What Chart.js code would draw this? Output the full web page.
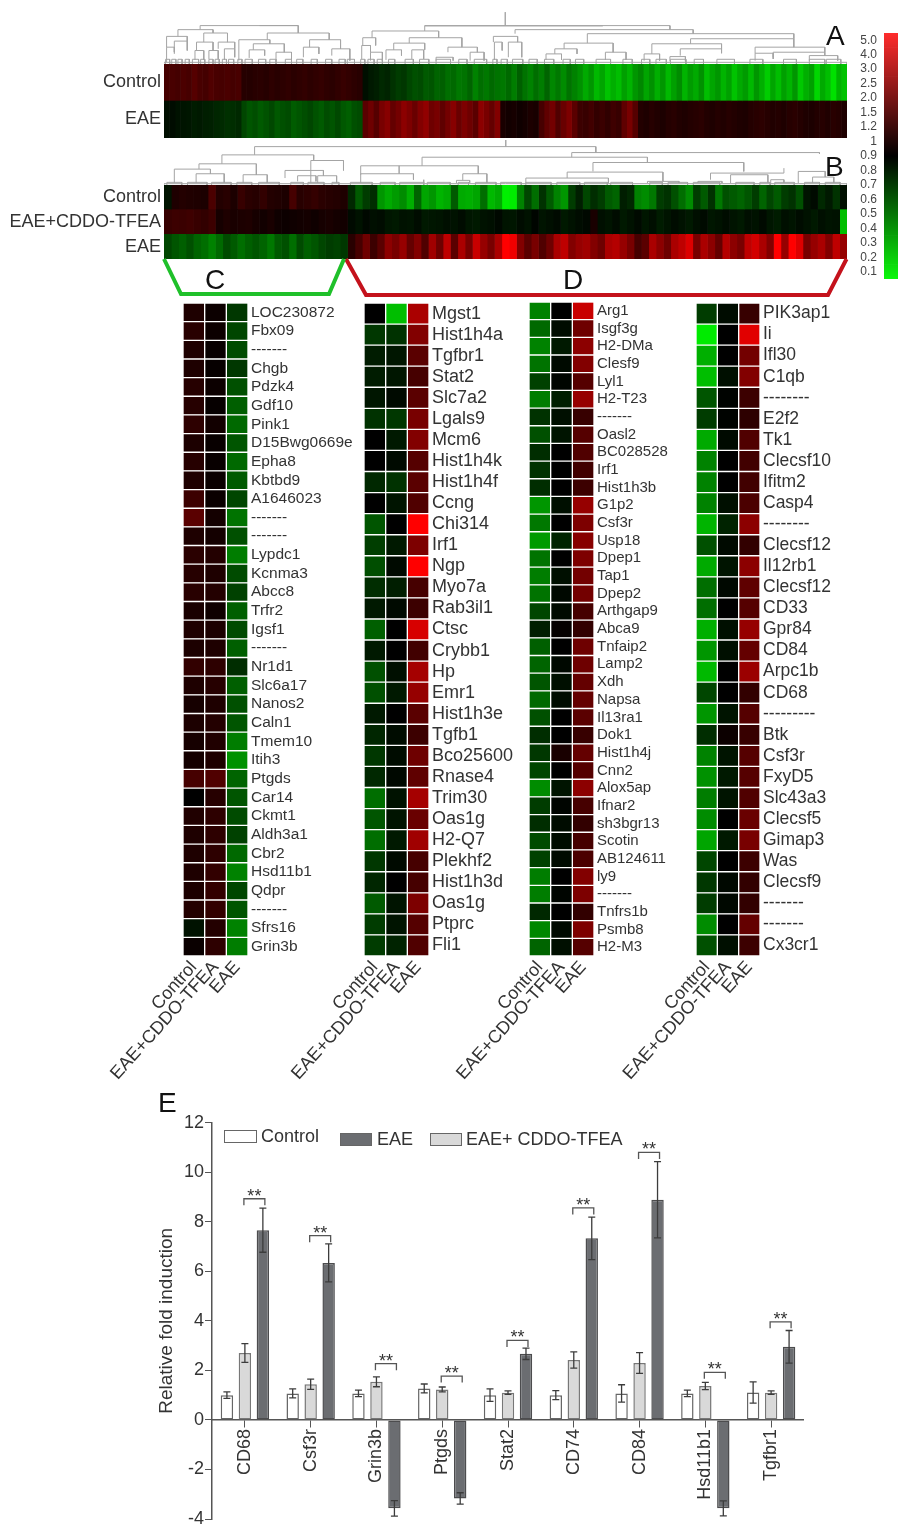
<!DOCTYPE html>
<html>
<head>
<meta charset="utf-8">
<title>Heat maps and fold induction</title>
<script src="https://cdn.jsdelivr.net/npm/chart.js@4"></script>
<style>
  html, body { margin: 0; padding: 0; background: #fff; }
  #page { position: relative; width: 898px; height: 1524px; overflow: hidden; font-family: "Liberation Sans", Arial, sans-serif; color: #222; }
  #page canvas { position: absolute; }
  .letter { position: absolute; font-size: 28px; line-height: 28px; color: #111; }
  .legend-box { position: absolute; box-sizing: border-box; border: 1.5px solid #666; }
  .legend-text { position: absolute; font-size: 18px; line-height: 20px; color: #333; white-space: nowrap; }
</style>
</head>
<body>
<div id="page"></div>
<script>
// ---------- Heat map A (signed level: red above, green below) ----------
const stripARows = ["Control", "EAE"];
const stripAControl = [
  70,72,68,75,70,85,72,68,80,72,70,74,68,72,
  38,36,40,42,38,45,40,44,48,42,46,50,44,48,52,46,42,48,55,50,44,40,
  -15,-25,-30,-40,-35,-50,-60,-55,-70,-80,-75,-90,-85,-100,-95,-110,-105,-120,-115,-100,-130,-110,-120,-105,-115,
  -120,-105,-125,-95,-115,-130,-110,-125,-100,-135,-120,-140,-115,-130,-145,
  -170,-150,-185,-165,-195,-175,-190,-160,-180,-150,
  -135,-165,-145,-175,-150,-185,-160,-140,-180,-155,-170,-145,-190,-165,-150,-180,-160,-195,-170,
  -155,-185,-150,-175,-205,-165,-190,-160,-180,-150,-200,-175,-160,-215,-170,-190,-225,-180,-195
];
const stripAEae = [
  -15,-12,-18,-20,-22,-28,-25,-30,-32,-38,-42,-48,-45,-40,
  -70,-85,-78,-90,-82,-72,-88,-80,-75,-92,-85,-78,-70,-82,-90,-76,-84,-72,-88,-95,-80,-75,
  90,110,85,120,135,100,115,140,125,105,130,145,110,120,95,115,135,105,125,110,90,140,120,100,130,
  25,18,22,15,20,28,24,
  70,95,115,80,105,125,90,60,55,65,50,58,48,62,55,95,120,85,
  35,30,38,32,28,36,40,33,30,35,38,42,34,30,36,32,38,34,30,
  28,36,40,44,38,32,35,30,38,42,36,30,28,34,38,32,40,36,30
];

// ---------- Heat map B ----------
const stripBRows = ["Control", "EAE+CDDO-TFEA", "EAE"];
const stripBControl = [
  -20,30,35,32,30,28,75,35,40,28,55,42,38,50,35,32,28,70,40,45,52,42,38,35,30,
  -40,-90,-60,-45,-150,-170,-155,-140,-175,-100,
  -165,-150,-180,-170,-90,-170,-175,-165,-110,-185,
  -170,-240,-235,-130,-70,-110,-50,-90,-130,-150,
  -60,-30,-70,-45,-60,-90,-100,-30,-40,-130,
  -140,-120,-60,-50,-80,-110,-140,-60,-90,-50,
  -120,-80,-90,-100,-85,-60,-100,-70,-90,-60,
  -50,-80,-20,-10,-40,-25,-50,-15
];
const stripBTfea = [
  55,60,58,62,55,50,60,22,30,25,28,30,22,18,25,15,12,15,18,20,15,22,25,20,18,
  -10,-18,-8,-15,-12,-22,-25,-18,-20,-12,
  -25,-22,-20,-15,-18,-12,-22,-25,-18,-15,
  -8,-20,-22,-12,-18,-5,-20,-15,-10,-25,
  -18,-12,-8,25,-15,-20,-12,-25,-18,-10,
  -22,-15,-28,-20,-12,-18,-25,-15,-10,-22,
  -18,-12,-20,-25,-15,-18,-10,-22,-28,-15,
  -20,-12,-18,-25,-15,-20,-18,-190
];
const stripBEae = [
  -70,-85,-95,-80,-100,-110,-130,-105,-75,-90,-110,-95,-85,-100,-120,-90,-80,-110,-75,-95,-85,-70,-60,-65,-55,
  40,70,110,60,90,140,120,150,100,130,
  80,160,110,190,90,170,120,200,150,120,
  170,255,240,130,90,120,80,110,170,190,
  130,150,160,130,110,170,180,150,120,70,
  90,170,140,110,170,190,220,120,170,140,
  100,180,140,120,190,210,170,130,255,150,
  255,220,120,150,170,130,190,150
];

// ---------- Dendrograms: [x left, x right, join height, left foot, right foot] ----------
const treeA = [
  [806,806,36,76,76],[215,405,76,88,98],[650,1125,76,92,88],[330,405,76,76,76],[650,995,77,77,77],
  [172,240,88,108,98],[150,190,108,140,122],[222,268,98,125,125],[150,165,140,185,155],[165,190,122,160,150],
  [208,240,125,150,150],[250,282,125,145,145],[205,222,150,178,178],[232,250,150,175,175],[262,282,145,178,170],
  [345,465,98,118,118],[290,350,118,180,130],[318,378,130,148,155],[310,340,148,172,165],[362,392,155,182,182],
  [427,487,118,140,145],[415,445,140,170,160],[470,505,145,165,180],
  [548,677,92,112,112],[530,555,112,135,135],[620,722,112,128,140],[590,650,128,148,148],[695,752,140,155,155],
  [528,545,135,175,155],[545,568,155,180,180],[575,605,148,178,165],[625,648,148,175,175],[672,705,170,180,180],[738,765,155,180,180],
  [825,1170,88,100,100],[783,830,108,125,125],[785,800,125,178,150],[812,838,125,170,170],
  [965,1365,100,128,115],[920,1015,128,145,155],[902,945,145,160,160],[1000,1040,155,178,178],[885,915,160,178,178],
  [1165,1365,115,130,140],[1090,1225,130,160,145],[1145,1225,145,165,158],[1075,1105,160,180,180],[1125,1155,168,182,182],
  [1290,1425,140,158,155],[1325,1425,155,170,165],[1290,1325,158,180,175],[1395,1450,165,180,180],
  [145,1468,185,190,190]
];
const treeALeaves = [
  [148,156],[160,168],[172,180],[186,194],[200,212],[216,224],[232,240],[244,252],[258,266],[270,280],
  [288,296],[302,316],[328,342],[350,362],[380,392],[402,414],[430,442],[458,470],[484,496],[500,514],
  [526,534],[540,552],[558,568],[580,592],[612,628],[640,658],[672,700],[716,732],[746,770],[782,790],
  [798,810],[820,840],[852,868],[882,900],[918,932],[942,958],[982,1010],[1034,1052],[1070,1086],[1098,1118],
  [1126,1156],[1172,1190],[1216,1250],[1280,1305],[1345,1370],[1395,1425],[1428,1456]
];
const treeB = [
  [883,883,0,20,20],[445,1040,20,45,38],[388,548,45,72,60],[348,448,72,88,105],[305,368,88,130,102],
  [343,392,102,130,130],[425,467,105,130,130],[543,600,62,130,92],[498,565,92,115,108],[520,552,108,125,125],[555,588,108,130,130],
  [998,1430,38,52,42],[737,1130,52,78,68],[630,835,78,105,102],[697,697,78,102,102],[630,722,102,130,120],[740,740,120,130,130],
  [808,850,102,122,130],[797,820,122,130,130],[1035,1298,68,95,95],[990,1157,97,115,125],[918,1062,115,130,130],
  [1130,1185,125,130,130],[1240,1368,100,120,85],[1275,1340,105,130,130],[1218,1260,125,130,130],[1345,1368,120,130,130],
  [1393,1440,95,130,112],[1418,1455,112,130,130],[287,1478,132,136,136]
];
const treeBLeaves = [
  [292,318],[328,362],[370,404],[414,440],[452,488],[508,530],[538,566],[580,592],[612,650],[664,690],
  [698,740],[746,786],[800,818],[830,866],[874,910],[918,962],[972,1012],[1020,1060],[1066,1104],[1134,1156],
  [1166,1200],[1210,1256],[1284,1316],[1326,1344],[1352,1386],[1404,1430],[1440,1466]
];

// ---------- Gene panels ----------
const heatColumns = ["Control", "EAE+CDDO-TFEA", "EAE"];

const genesC = ["LOC230872","Fbx09","-------","Chgb","Pdzk4","Gdf10","Pink1","D15Bwg0669e","Epha8","Kbtbd9","A1646023","-------","-------","Lypdc1","Kcnma3","Abcc8","Trfr2","Igsf1","-------","Nr1d1","Slc6a17","Nanos2","Caln1","Tmem10","Itih3","Ptgds","Car14","Ckmt1","Aldh3a1","Cbr2","Hsd11b1","Qdpr","-------","Sfrs16","Grin3b"];
const cControl = [30,40,30,30,38,38,45,28,38,30,60,90,30,42,38,40,25,30,28,50,30,22,28,22,20,70,0,32,30,30,30,28,35,-18,10];
const cTfea = [12,12,8,6,12,6,18,8,8,10,10,20,20,35,30,35,15,28,30,45,38,30,35,32,30,80,38,45,45,45,50,50,50,35,45];
const cEae = [-55,-70,-75,-55,-80,-95,-105,-85,-105,-90,-70,-115,-80,-125,-75,-65,-95,-75,-95,-45,-95,-80,-85,-125,-145,-100,-85,-75,-65,-105,-130,-70,-85,-130,-125];

const genesD1 = ["Mgst1","Hist1h4a","Tgfbr1","Stat2","Slc7a2","Lgals9","Mcm6","Hist1h4k","Hist1h4f","Ccng","Chi314","Irf1","Ngp","Myo7a","Rab3il1","Ctsc","Crybb1","Hp","Emr1","Hist1h3e","Tgfb1","Bco25600","Rnase4","Trim30","Oas1g","H2-Q7","Plekhf2","Hist1h3d","Oas1g","Ptprc","Fli1"];
const d1Control = [0,-55,-28,-28,-22,-50,0,0,-40,0,-85,-62,-78,-45,-25,-95,-25,-80,-80,-25,-38,-55,-40,-110,-85,-110,-55,-38,-90,-60,-60];
const d1Tfea = [-190,-50,-22,-22,-10,-55,-25,-10,-50,-20,0,-25,-10,-30,-10,0,0,-15,-25,0,-12,-12,-8,-18,-20,-25,-10,0,-20,-20,-35];
const d1Eae = [170,130,90,70,90,120,130,85,90,80,255,125,255,70,60,215,65,165,150,90,60,110,95,165,105,160,70,70,125,85,80];

const genesD2 = ["Arg1","Isgf3g","H2-DMa","Clesf9","Lyl1","H2-T23","-------","Oasl2","BC028528","Irf1","Hist1h3b","G1p2","Csf3r","Usp18","Dpep1","Tap1","Dpep2","Arthgap9","Abca9","Tnfaip2","Lamp2","Xdh","Napsa","Il13ra1","Dok1","Hist1h4j","Cnn2","Alox5ap","Ifnar2","sh3bgr13","Scotin","AB124611","ly9","-------","Tnfrs1b","Psmb8","H2-M3"];
const d2Control = [-130,-105,-130,-115,-65,-125,-50,-80,-45,-50,-45,-150,-120,-155,-115,-125,-115,-70,-30,-95,-100,-85,-105,-80,-45,-55,-70,-140,-60,-45,-75,-65,-125,-125,-40,-135,-100];
const d2Tfea = [0,-12,-25,-10,-5,-30,-15,-20,0,0,0,-15,0,-35,0,-15,-8,-10,5,0,-8,-15,-12,0,0,25,0,-20,-5,-12,-12,-10,0,-5,0,-10,-15];
const d2Eae = [200,110,140,130,85,150,55,85,80,65,60,150,125,135,125,115,115,70,50,110,110,100,100,90,55,100,85,140,70,50,70,75,130,125,50,125,85];

const genesD3 = ["PIK3ap1","Ii","Ifl30","C1qb","--------","E2f2","Tk1","Clecsf10","Ifitm2","Casp4","--------","Clecsf12","Il12rb1","Clecsf12","CD33","Gpr84","CD84","Arpc1b","CD68","---------","Btk","Csf3r","FxyD5","Slc43a3","Clecsf5","Gimap3","Was","Clecsf9","-------","-------","Cx3cr1"];
const d3Control = [-60,-235,-175,-190,-85,-60,-170,-130,-130,-130,-180,-80,-170,-110,-110,-175,-150,-185,-70,-150,-45,-130,-145,-125,-140,-165,-70,-55,-60,-140,-80];
const d3Tfea = [-12,0,0,-15,-3,-3,-10,0,0,-15,-35,-10,-20,-8,0,-15,-15,0,0,-20,12,-20,-25,-20,0,-25,0,-8,-8,0,-15];
const d3Eae = [55,225,115,130,60,45,80,65,65,75,140,50,140,95,85,150,100,155,50,85,55,85,85,80,105,120,60,50,50,100,60];

// ---------- Colour key ----------
const keyLabels = ["5.0","4.0","3.0","2.5","2.0","1.5","1.2","1","0.9","0.8","0.7","0.6","0.5","0.4","0.3","0.2","0.1"];

// ---------- Bar chart E ----------
const barGenes = ["CD68","Csf3r","Grin3b","Ptgds","Stat2","CD74","CD84","Hsd11b1","Tgfbr1"];
const barControl = [1.0,1.07,1.07,1.27,1.0,1.0,1.07,1.07,1.11];
const barTfea = [2.7,1.44,1.54,1.23,1.1,2.42,2.3,1.37,1.1];
const barEae = [7.66,6.34,-3.57,-3.17,2.67,7.33,8.89,-3.57,2.95];
const errControl = [0.13,0.18,0.13,0.18,0.25,0.18,0.35,0.13,0.43];
const errTfea = [0.38,0.21,0.2,0.1,0.07,0.33,0.42,0.15,0.07];
const errEae = [0.89,0.77,0.31,0.23,0.23,0.86,1.54,0.3,0.66];
const sigTops = [8.93,7.44,2.27,1.77,3.21,8.56,10.8,1.92,3.96];

const page = document.getElementById("page");
const fontName = '"Liberation Sans", Arial, sans-serif';

function addCanvas(left, top, width, height) {
  let c = document.createElement("canvas");
  c.width = width;
  c.height = height;
  c.style.left = left + "px";
  c.style.top = top + "px";
  c.style.width = width + "px";
  c.style.height = height + "px";
  page.appendChild(c);
  return c;
}

function addLetter(text, left, top) {
  let d = document.createElement("div");
  d.className = "letter";
  d.textContent = text;
  d.style.left = left + "px";
  d.style.top = top + "px";
  page.appendChild(d);
}

function heatColor(v) {
  return v >= 0 ? `rgb(${v},0,0)` : `rgb(0,${-v},0)`;
}

// stops a y axis from pushing the plot in for its first and last label
function noOverhang(s) {
  s.paddingTop = 0;
  s.paddingBottom = 0;
}

// ---------- Heat map helper: rows on the y axis, columns stacked on x ----------
function heatChart(canvas, rows, columns, opts) {
  new Chart(canvas, {
    type: "bar",
    data: {
      labels: rows,
      datasets: columns.map(col => ({
        data: col.map(() => 1),
        backgroundColor: col.map(heatColor),
        borderColor: "#fff",
        borderWidth: opts.gap,
        borderSkipped: false,
        barPercentage: 1,
        categoryPercentage: 1
      }))
    },
    options: {
      indexAxis: "y",
      responsive: false,
      animation: false,
      layout: { padding: { left: opts.paddingLeft || 0 } },
      plugins: { legend: { display: false }, tooltip: { enabled: false } },
      scales: {
        x: {
          type: "linear",
          stacked: true,
          min: 0,
          max: columns.length,
          display: !!opts.columnLabels,
          grid: { display: false, drawTicks: false },
          border: { display: false },
          afterBuildTicks: s => { if (opts.columnLabels) s.ticks = opts.columnLabels.map((_, i) => ({ value: i + 0.5 })); },
          afterFit: s => { s.height = opts.bottom || 0; s.paddingRight = 0; },
          ticks: {
            autoSkip: false,
            minRotation: 48,
            maxRotation: 48,
            padding: 1,
            color: "#333",
            font: { family: fontName, size: 18 },
            callback: (v, i) => opts.columnLabels ? opts.columnLabels[i] : ""
          }
        },
        y: {
          stacked: true,
          position: opts.labelSide,
          grid: { display: false, drawTicks: false },
          border: { display: false },
          afterFit: s => { s.width = opts.labelWidth; noOverhang(s); },
          ticks: {
            autoSkip: false,
            padding: 3,
            color: "#333",
            font: { family: fontName, size: opts.fontSize }
          }
        }
      }
    }
  });
}

function toColumns(rowArrays) {
  return rowArrays[0].map((_, i) => rowArrays.map(r => r[i]));
}

// ---------- Dendrogram helper ----------
function treeChart(canvas, merges, leaves, footY, xMin, xMax, yMax) {
  let pts = [];
  merges.concat(leaves.map(l => [l[0], l[1], footY, yMax, yMax])).forEach(m => {
    pts.push({ x: m[0], y: m[3] }, { x: m[0], y: m[2] }, { x: m[1], y: m[2] }, { x: m[1], y: m[4] }, { x: NaN, y: NaN });
  });
  new Chart(canvas, {
    type: "scatter",
    data: { datasets: [{ data: pts, showLine: true, spanGaps: false, pointRadius: 0, borderColor: "#a4a4a4", borderWidth: 1 }] },
    options: {
      responsive: false,
      animation: false,
      plugins: { legend: { display: false }, tooltip: { enabled: false } },
      scales: {
        x: { type: "linear", min: xMin, max: xMax, display: false },
        y: { type: "linear", min: 0, max: yMax, reverse: true, display: false }
      }
    }
  });
}

// ---------- Top heat maps ----------
treeChart(addCanvas(164, 0, 683, 64), treeA, treeALeaves, 176, 145, 1468, 190);
heatChart(addCanvas(0, 64, 847, 74), stripARows, toColumns([stripAControl, stripAEae]),
  { gap: 0, labelSide: "left", labelWidth: 164, fontSize: 18 });

treeChart(addCanvas(164, 140, 683, 45), treeB, treeBLeaves, 128, 287, 1478, 136);
heatChart(addCanvas(0, 185, 847, 74), stripBRows, toColumns([stripBControl, stripBTfea, stripBEae]),
  { gap: 0, labelSide: "left", labelWidth: 164, fontSize: 18 });

// ---------- Cluster brackets ----------
const bracketGreen = [{x:164,y:259},{x:181,y:294},{x:329,y:294},{x:344,y:259}];
const bracketRed = [{x:346,y:259},{x:366,y:295},{x:828,y:295},{x:846.5,y:259}];
new Chart(addCanvas(150, 250, 710, 55), {
  type: "scatter",
  data: { datasets: [
    { data: bracketGreen, showLine: true, pointRadius: 0, borderColor: "#1fc02a", borderWidth: 4 },
    { data: bracketRed, showLine: true, pointRadius: 0, borderColor: "#c4121c", borderWidth: 4 }
  ] },
  options: {
    responsive: false,
    animation: false,
    plugins: { legend: { display: false }, tooltip: { enabled: false } },
    scales: {
      x: { type: "linear", min: 150, max: 860, display: false },
      y: { type: "linear", min: 250, max: 305, reverse: true, display: false }
    }
  }
});

// ---------- Gene panels ----------
const panelPad = 130;
heatChart(addCanvas(183 - panelPad, 303, panelPad + 175, 653 + 130), genesC, [cControl, cTfea, cEae],
  { gap: 1, paddingLeft: panelPad, labelSide: "right", labelWidth: 110, fontSize: 15.5, bottom: 130, columnLabels: heatColumns });
heatChart(addCanvas(364 - panelPad, 303, panelPad + 160, 653 + 130), genesD1, [d1Control, d1Tfea, d1Eae],
  { gap: 1, paddingLeft: panelPad, labelSide: "right", labelWidth: 95, fontSize: 18, bottom: 130, columnLabels: heatColumns });
heatChart(addCanvas(529 - panelPad, 302, panelPad + 160, 654 + 130), genesD2, [d2Control, d2Tfea, d2Eae],
  { gap: 1, paddingLeft: panelPad, labelSide: "right", labelWidth: 95, fontSize: 15, bottom: 130, columnLabels: heatColumns });
heatChart(addCanvas(696 - panelPad, 303, panelPad + 160, 653 + 130), genesD3, [d3Control, d3Tfea, d3Eae],
  { gap: 1, paddingLeft: panelPad, labelSide: "right", labelWidth: 96, fontSize: 17.5, bottom: 130, columnLabels: heatColumns });

// ---------- Colour key ----------
new Chart(addCanvas(840, 33, 58, 246), {
  type: "bar",
  data: {
    labels: keyLabels,
    datasets: [{
      data: keyLabels.map(() => 1),
      barPercentage: 1,
      categoryPercentage: 1,
      backgroundColor: ctx => {
        let area = ctx.chart.chartArea;
        if (!area) return "#000";
        let g = ctx.chart.ctx.createLinearGradient(0, area.top, 0, area.bottom);
        g.addColorStop(0, "#ff2c2c");
        g.addColorStop(0.5, "#000");
        g.addColorStop(1, "#0cf80c");
        return g;
      }
    }]
  },
  options: {
    indexAxis: "y",
    responsive: false,
    animation: false,
    plugins: { legend: { display: false }, tooltip: { enabled: false } },
    scales: {
      x: { min: 0, max: 1, display: false },
      y: {
        grid: { display: false, drawTicks: false },
        border: { display: false },
        afterFit: s => { s.width = 44; noOverhang(s); },
        ticks: { autoSkip: false, padding: 7, color: "#444", font: { family: fontName, size: 12 } }
      }
    }
  }
});

// ---------- Bar chart E ----------
const errorPlugin = {
  id: "errorsAndBrackets",
  afterDatasetsDraw(chart) {
    const { ctx, scales: { y } } = chart;
    const errs = [errControl, errTfea, errEae];
    ctx.save();
    ctx.strokeStyle = "#3c3c3c";
    ctx.lineWidth = 1.3;
    chart.data.datasets.forEach((ds, d) => {
      chart.getDatasetMeta(d).data.forEach((bar, i) => {
        let hi = y.getPixelForValue(ds.data[i] + errs[d][i]);
        let lo = y.getPixelForValue(ds.data[i] - errs[d][i]);
        ctx.beginPath();
        ctx.moveTo(bar.x, hi); ctx.lineTo(bar.x, lo);
        ctx.moveTo(bar.x - 3.5, hi); ctx.lineTo(bar.x + 3.5, hi);
        ctx.moveTo(bar.x - 3.5, lo); ctx.lineTo(bar.x + 3.5, lo);
        ctx.stroke();
      });
    });
    // significance brackets
    ctx.strokeStyle = "#555";
    ctx.fillStyle = "#333";
    ctx.textAlign = "center";
    ctx.font = "18px " + fontName;
    sigTops.forEach((v, i) => {
      let x1 = chart.getDatasetMeta(1).data[i].x - 1;
      let x2 = chart.getDatasetMeta(2).data[i].x + 2;
      let top = y.getPixelForValue(v);
      ctx.beginPath();
      ctx.moveTo(x1, top + 6.5); ctx.lineTo(x1, top); ctx.lineTo(x2, top); ctx.lineTo(x2, top + 6.5);
      ctx.stroke();
      ctx.fillText("**", (x1 + x2) / 2, top + 3);
    });
    ctx.restore();
  }
};

new Chart(addCanvas(155, 1100, 649, 424), {
  type: "bar",
  data: {
    labels: barGenes,
    datasets: [
      { label: "Control", data: barControl, backgroundColor: "#fff", borderColor: "#666", borderWidth: 1.5, borderSkipped: false },
      { label: "EAE+ CDDO-TFEA", data: barTfea, backgroundColor: "#d9d9d9", borderColor: "#777", borderWidth: 1.5, borderSkipped: false },
      { label: "EAE", data: barEae, backgroundColor: "#6b6d71", borderColor: "#4c4c4e", borderWidth: 1.5, borderSkipped: false }
    ]
  },
  plugins: [errorPlugin],
  options: {
    responsive: false,
    animation: false,
    layout: { padding: { top: 22.7, bottom: 5 } },
    datasets: { bar: { categoryPercentage: 0.82, barPercentage: 0.69 } },
    plugins: { legend: { display: false }, tooltip: { enabled: false } },
    scales: {
      x: {
        position: { y: 0 },
        grid: { drawOnChartArea: false, tickLength: 7, tickColor: "#555", offset: false },
        border: { color: "#555", width: 1.5 },
        ticks: { autoSkip: false, minRotation: 90, maxRotation: 90, padding: 2, color: "#333", font: { family: fontName, size: 18 } }
      },
      y: {
        min: -4,
        max: 12,
        afterFit: s => { s.width = 57; noOverhang(s); },
        title: { display: true, text: "Relative fold induction", color: "#333", font: { family: fontName, size: 19 }, padding: 0 },
        grid: { drawOnChartArea: false, tickLength: 7, tickColor: "#555" },
        border: { color: "#555", width: 1.5 },
        ticks: { stepSize: 2, padding: 1, color: "#333", font: { family: fontName, size: 18 } }
      }
    }
  }
});

// ---------- Legend and letters ----------
function legendItem(text, bg, boxLeft, boxTop, boxW, boxH, textLeft, textTop) {
  let b = document.createElement("div");
  b.className = "legend-box";
  b.style.cssText = `left:${boxLeft}px;top:${boxTop}px;width:${boxW}px;height:${boxH}px;background:${bg}`;
  page.appendChild(b);
  let t = document.createElement("div");
  t.className = "legend-text";
  t.textContent = text;
  t.style.left = textLeft + "px";
  t.style.top = textTop + "px";
  page.appendChild(t);
}
legendItem("Control", "#fff", 224, 1130, 33, 13, 261, 1126);
legendItem("EAE", "#6b6d71", 340, 1133, 32, 13, 377, 1129);
legendItem("EAE+ CDDO-TFEA", "#d9d9d9", 430, 1133, 32, 13, 466, 1129);

addLetter("A", 826, 22);
addLetter("B", 825, 153);
addLetter("C", 205, 266);
addLetter("D", 563, 266);
addLetter("E", 158, 1089);
</script>
</body>
</html>
